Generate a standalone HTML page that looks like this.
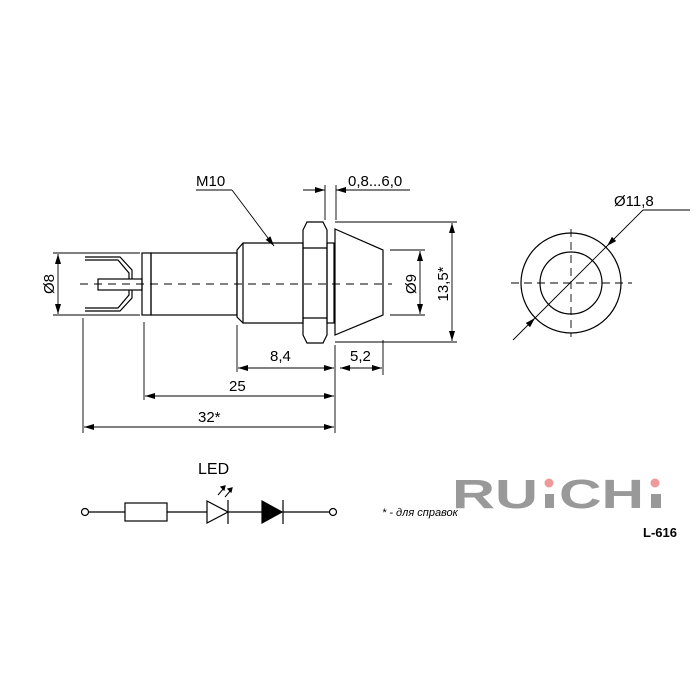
<!DOCTYPE html>
<html><head><style>body{margin:0;background:#fff}svg{display:block}</style></head><body>
<svg width="700" height="700" viewBox="0 0 700 700" xmlns="http://www.w3.org/2000/svg" font-family="Liberation Sans, sans-serif">
<defs>
<marker id="a" viewBox="0 0 10 6" refX="10" refY="3" markerWidth="10" markerHeight="6" orient="auto-start-reverse" markerUnits="userSpaceOnUse"><path d="M0,0L10,3L0,6z" fill="#000"/></marker>
</defs>
<g stroke="#000" stroke-width="1.2" fill="none">
<path d="M85,257H120L132,270V280H142"/><path d="M85,260H118L129,273V282H142"/>
<path d="M85,311H120L132,298V288H142"/><path d="M85,308H118L129,295V286H142"/>
<rect x="98" y="279" width="44" height="11" fill="#fff"/>
<rect x="142" y="253" width="9" height="62"/>
<rect x="151" y="253" width="86" height="62"/>
<path d="M237,250L243,243H303V323H243L237,317Z"/>
<line x1="243" y1="243" x2="243" y2="323"/>
<path d="M307,222H323L327,230V335L323,343H307L303,335V230Z"/>
<line x1="303" y1="248" x2="327" y2="248"/><line x1="303" y1="318" x2="327" y2="318"/>
<rect x="327" y="243" width="7" height="80"/>
<path d="M335,229L383,250V315L335,335Z"/>
<line x1="80" y1="284" x2="392" y2="284" stroke-dasharray="8,6" stroke-width="0.9"/>
<g stroke-width="0.9">
<line x1="53" y1="253" x2="140" y2="253"/><line x1="53" y1="315" x2="140" y2="315"/>
<line x1="83" y1="318" x2="83" y2="433"/><line x1="144" y1="322" x2="144" y2="400"/>
<line x1="237" y1="325" x2="237" y2="372"/><line x1="335" y1="345" x2="335" y2="433"/>
<line x1="383" y1="340" x2="383" y2="375"/>
<line x1="390" y1="250" x2="425" y2="250"/><line x1="390" y1="315" x2="425" y2="315"/>
<line x1="335" y1="222" x2="457" y2="222"/><line x1="335" y1="342" x2="457" y2="342"/>
<line x1="325" y1="185" x2="325" y2="220"/><line x1="336" y1="185" x2="336" y2="220"/>
<line x1="196" y1="190" x2="232" y2="190"/><line x1="232" y1="190" x2="274" y2="246" marker-end="url(#a)"/>
<line x1="303" y1="190" x2="325" y2="190" marker-end="url(#a)"/>
<line x1="410" y1="190" x2="336" y2="190" marker-end="url(#a)"/>
<line x1="58" y1="254" x2="58" y2="314" marker-start="url(#a)" marker-end="url(#a)"/>
<line x1="420" y1="251" x2="420" y2="314" marker-start="url(#a)" marker-end="url(#a)"/>
<line x1="452" y1="223" x2="452" y2="341" marker-start="url(#a)" marker-end="url(#a)"/>
<line x1="238" y1="368" x2="334" y2="368" marker-start="url(#a)" marker-end="url(#a)"/>
<line x1="340" y1="368" x2="382" y2="368" marker-start="url(#a)" marker-end="url(#a)"/>
<line x1="145" y1="396" x2="334" y2="396" marker-start="url(#a)" marker-end="url(#a)"/>
<line x1="84" y1="427" x2="334" y2="427" marker-start="url(#a)" marker-end="url(#a)"/>
</g>
<circle cx="571" cy="283" r="50"/><circle cx="571" cy="283" r="31"/>
<line x1="511" y1="283" x2="632" y2="283" stroke-dasharray="8,5" stroke-width="0.9"/>
<line x1="571" y1="229" x2="571" y2="337" stroke-dasharray="8,5" stroke-width="0.9"/>
<line x1="513" y1="340" x2="535" y2="318" marker-end="url(#a)" stroke-width="0.9"/>
<line x1="535" y1="318" x2="607" y2="246" stroke-width="0.9"/>
<line x1="643" y1="210" x2="607" y2="246" marker-end="url(#a)" stroke-width="0.9"/>
<line x1="643" y1="210" x2="690" y2="210" stroke-width="0.9"/>
<circle cx="85" cy="512" r="3.5"/><line x1="89" y1="512" x2="125" y2="512"/>
<rect x="125" y="503" width="42" height="18"/><line x1="167" y1="512" x2="207" y2="512"/>
<path d="M207,501L228,512L207,523Z"/><line x1="228" y1="500" x2="228" y2="524"/>
<line x1="228" y1="512" x2="262" y2="512"/>
<path d="M262,501L282,512L262,523Z" fill="#000"/><line x1="283" y1="500" x2="283" y2="524"/>
<line x1="283" y1="512" x2="329" y2="512"/><circle cx="333" cy="512" r="3.5"/>
<line x1="218" y1="495" x2="224" y2="488" stroke-width="1"/><path d="M225,486l-4,1l3,3z" fill="#000"/>
<line x1="225" y1="497" x2="231" y2="490" stroke-width="1"/><path d="M232,488l-4,1l3,3z" fill="#000"/>
</g>
<g font-size="15" fill="#000">
<text x="196" y="186">M10</text>
<text x="348" y="186">0,8...6,0</text>
<text x="614" y="206">Ø11,8</text>
<text x="270" y="361">8,4</text>
<text x="350" y="361">5,2</text>
<text x="229" y="391">25</text>
<text x="198" y="422">32*</text>
<text transform="translate(54,284) rotate(-90)" text-anchor="middle">Ø8</text>
<text transform="translate(416,284) rotate(-90)" text-anchor="middle">Ø9</text>
<text transform="translate(448,284) rotate(-90)" text-anchor="middle">13,5*</text>
<text x="198" y="474" font-size="16">LED</text>
</g>
<text x="382" y="516" font-size="11" font-style="italic">* - для справок</text>
<g fill="#999" font-size="41" font-weight="bold">
<text x="452" y="508" textLength="86" lengthAdjust="spacingAndGlyphs">RU</text>
<rect x="545" y="494" width="9" height="14"/>
<text x="559" y="508" textLength="85" lengthAdjust="spacingAndGlyphs">CH</text>
<rect x="651" y="494" width="10" height="14"/>
</g>
<circle cx="549" cy="483" r="4.5" fill="#ee9a9a"/><circle cx="655" cy="483" r="4.5" fill="#ee9a9a"/>
<text x="643" y="537" font-size="13" font-weight="bold">L-616</text>
</svg>
</body></html>
